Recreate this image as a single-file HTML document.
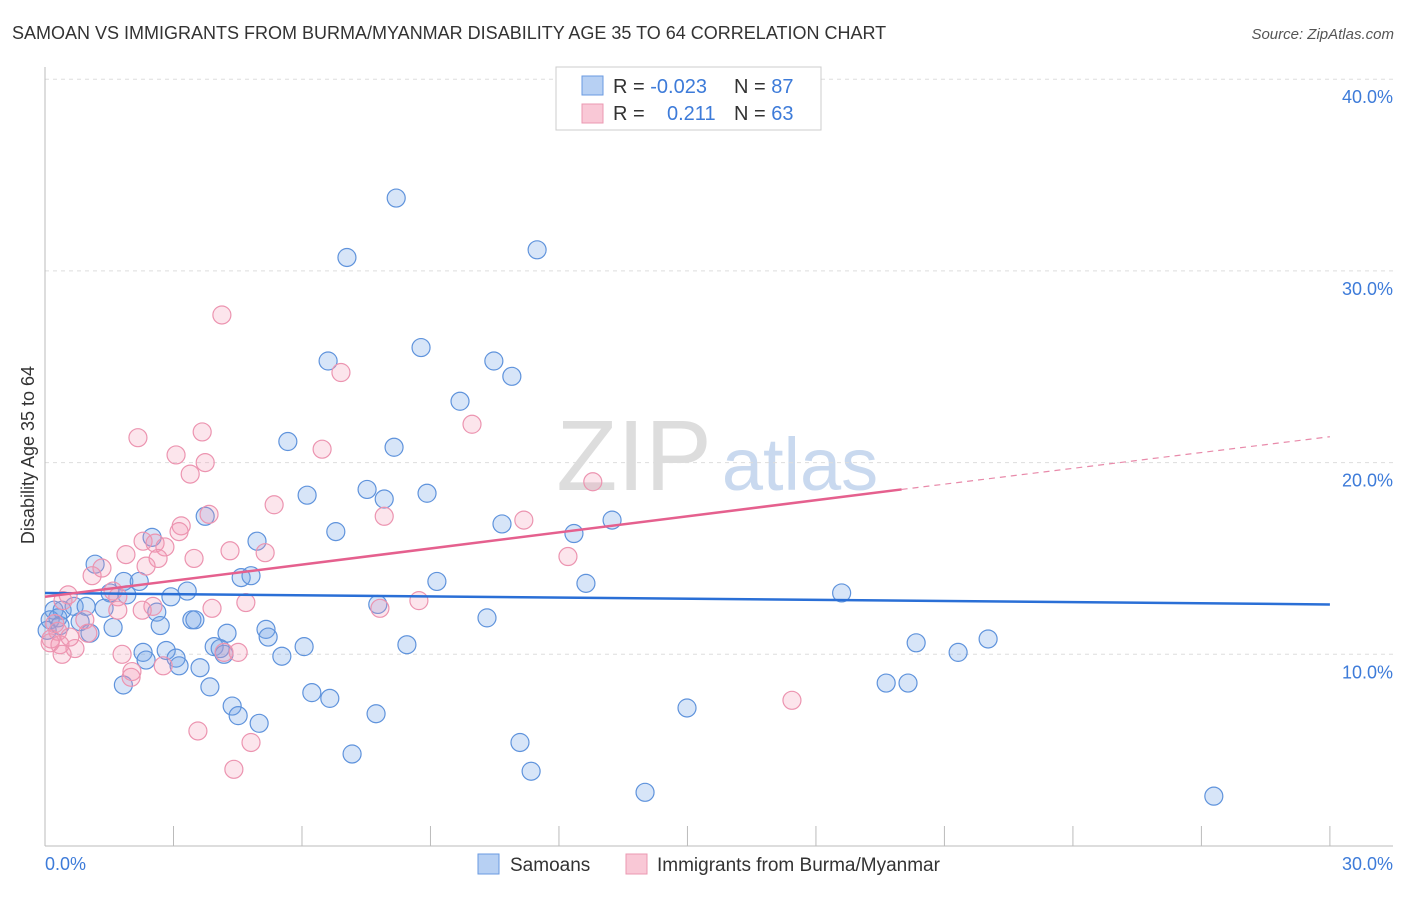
<!DOCTYPE html>
<html><head><meta charset="utf-8"><style>
body{margin:0;background:#fff;font-family:"Liberation Sans",sans-serif;}
svg text{font-family:"Liberation Sans",sans-serif;}
</style></head><body>
<svg id="chart" width="1406" height="892" xmlns="http://www.w3.org/2000/svg">
<text x="12" y="39" font-size="18" fill="#333">SAMOAN VS IMMIGRANTS FROM BURMA/MYANMAR DISABILITY AGE 35 TO 64 CORRELATION CHART</text>
<text x="1394" y="39" font-size="15" fill="#555" text-anchor="end" font-style="italic">Source: ZipAtlas.com</text>
<g>
<text x="634" y="490" font-size="100" fill="#ddd" font-family="Liberation Serif, serif" text-anchor="middle">ZIP</text>
<text x="800" y="490" font-size="74" fill="#c9d9ef" text-anchor="middle">atlas</text>
</g>
<g id="grid"></g>
<g id="axes"></g>
<g id="pts"></g>
<g id="lines"></g>
<text transform="translate(34,455) rotate(-90)" font-size="18" fill="#333" text-anchor="middle">Disability Age 35 to 64</text>
<text x="45" y="870" font-size="18" fill="#3d7bd9">0.0%</text>
<text x="1393" y="870" font-size="18" fill="#3d7bd9" text-anchor="end">30.0%</text>
<g>
<rect x="556" y="67" width="265" height="63" fill="#fff" stroke="#ccc"/>
<rect x="582" y="76" width="21" height="19" fill="#b7d0f3" stroke="#6a9ae0"/>
<rect x="582" y="104" width="21" height="19" fill="#f9c8d6" stroke="#eb98b2"/>
<text x="613" y="93" font-size="20" fill="#333">R = <tspan fill="#3d7bd9">-0.023</tspan></text>
<text x="734" y="93" font-size="20" fill="#333">N = <tspan fill="#3d7bd9">87</tspan></text>
<text x="613" y="120" font-size="20" fill="#333">R = <tspan fill="#3d7bd9" x="667">0.211</tspan></text>
<text x="734" y="120" font-size="20" fill="#333">N = <tspan fill="#3d7bd9">63</tspan></text>
</g>
<g>
<rect x="478" y="854" width="21" height="20" fill="#b7d0f3" stroke="#6a9ae0"/>
<text x="510" y="871" font-size="19" fill="#333">Samoans</text>
<rect x="626" y="854" width="21" height="20" fill="#f9c8d6" stroke="#eb98b2"/>
<text x="657" y="871" font-size="19" fill="#333">Immigrants from Burma/Myanmar</text>
</g>
</svg>
<script>
const yTicks=[10,20,30,40];
const yTickLabels=["10.0%","20.0%","30.0%","40.0%"];
const xTicks=[0,3,6,9,12,15,18,21,24,27,30];
const blueX=[8.20,7.05,11.49,8.78,6.61,10.48,10.90,9.69,5.67,8.15,7.52,6.12,7.92,8.92,10.67,6.79,12.35,13.24,3.74,2.50,4.95,1.17,1.84,2.20,4.58,4.81,9.15,12.63,18.60,1.52,1.91,2.94,3.32,0.21,0.40,0.68,0.96,1.38,2.61,7.77,10.32,0.12,0.82,1.59,2.69,3.43,3.50,4.25,5.16,5.21,1.05,3.95,4.09,4.18,6.05,8.45,5.53,2.29,2.36,2.83,3.06,3.13,3.62,20.34,21.32,22.02,19.64,20.15,3.85,1.83,6.23,6.65,4.37,4.51,5.00,7.73,14.99,7.17,11.09,11.35,14.01,27.29,0.05,0.30,0.35];
const blueY=[33.8,30.7,31.1,26.0,25.3,25.3,24.5,23.2,21.1,20.8,18.6,18.3,18.1,18.4,16.8,16.4,16.3,17.0,17.2,16.1,15.9,14.7,13.8,13.8,14.0,14.1,13.8,13.7,13.2,13.2,13.1,13.0,13.3,12.3,12.3,12.5,12.5,12.4,12.2,12.6,11.9,11.8,11.7,11.4,11.5,11.8,11.8,11.1,11.3,10.9,11.1,10.4,10.3,10.0,10.4,10.5,9.9,10.1,9.7,10.2,9.8,9.4,9.3,10.6,10.1,10.8,8.5,8.5,8.3,8.4,8.0,7.7,7.3,6.8,6.4,6.9,7.2,4.8,5.4,3.9,2.8,2.6,11.25,11.9,11.5];
const pinkX=[4.13,6.91,9.97,2.17,3.67,3.06,3.74,3.39,6.47,12.79,3.83,5.35,7.92,11.18,3.18,3.13,2.29,2.57,2.80,1.89,4.32,5.14,3.48,2.64,12.21,2.36,1.33,1.10,1.59,1.70,0.54,0.42,4.69,8.73,2.52,2.27,3.90,7.82,1.70,0.93,0.23,0.30,0.14,0.12,0.35,0.70,0.40,1.80,4.18,4.51,2.03,2.01,2.76,17.44,3.57,4.81,4.41,0.58,1.0];
const pinkY=[27.7,24.7,22.0,21.3,21.6,20.4,20.0,19.4,20.7,19.0,17.3,17.8,17.2,17.0,16.7,16.4,15.9,15.8,15.6,15.2,15.4,15.3,15.0,15.0,15.1,14.6,14.5,14.1,13.3,13.0,13.1,12.8,12.7,12.8,12.5,12.3,12.4,12.4,12.3,11.8,11.6,11.2,10.8,10.6,10.5,10.3,10.0,10.0,10.1,10.1,9.1,8.8,9.4,7.6,6.0,5.4,4.0,10.9,11.1];
const blueTrend=[13.2,12.6];
const pinkTrend=[13.0,18.6,21.35];
const NS="http://www.w3.org/2000/svg";
const sx=v=>45+v*42.83;
const sy=v=>846-v*19.17;
function mk(tag,attrs,parent){const e=document.createElementNS(NS,tag);for(const k in attrs)e.setAttribute(k,attrs[k]);document.getElementById(parent).appendChild(e);return e;}
yTicks.forEach((t,i)=>{
  const l=mk('line',{x1:45,x2:1393,y1:sy(t),y2:sy(t),stroke:'#ddd','stroke-dasharray':'4,4'},'grid');
  
  
  const tx=mk('text',{x:1393,y:sy(t)+24,'font-size':18,fill:'#3d7bd9','text-anchor':'end'},'grid');
  tx.textContent=yTickLabels[i];
  
  
});
const ya=mk('line',{x1:45,x2:45,y1:67,y2:846,stroke:'#bbb'},'axes');


const xa=mk('line',{x1:45,x2:1393,y1:846,y2:846,stroke:'#bbb'},'axes');


xTicks.forEach(t=>{
  const l=mk('line',{x1:sx(t),x2:sx(t),y1:826,y2:846,stroke:'#bbb'},'axes');
  
  
});
blueX.forEach((x,i)=>{
  const c=mk('circle',{cx:sx(x),cy:sy(blueY[i]),r:9,fill:'rgba(110,160,230,0.28)',stroke:'#5f93dc','stroke-width':1.2},'pts');
  
  
});
pinkX.forEach((x,i)=>{
  const c=mk('circle',{cx:sx(x),cy:sy(pinkY[i]),r:9,fill:'rgba(244,150,180,0.25)',stroke:'#ec94b0','stroke-width':1.2},'pts');
  
  
});
const bl=mk('line',{x1:sx(0),y1:sy(blueTrend[0]),x2:sx(30),y2:sy(blueTrend[1]),stroke:'#2a6fd6','stroke-width':2.5},'lines');


const pl=mk('line',{x1:sx(0),y1:sy(pinkTrend[0]),x2:sx(20),y2:sy(pinkTrend[1]),stroke:'#e5608e','stroke-width':2.5},'lines');


const pd=mk('line',{x1:sx(20),y1:sy(pinkTrend[1]),x2:sx(30),y2:sy(pinkTrend[2]),stroke:'#e88aaa','stroke-width':1.2,'stroke-dasharray':'6,5'},'lines');


</script>
</body></html>
